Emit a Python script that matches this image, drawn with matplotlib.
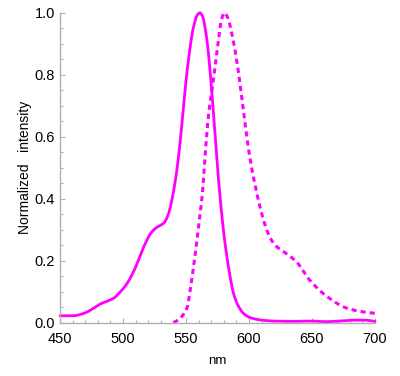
import numpy as np
import matplotlib
matplotlib.use("Agg")
import matplotlib.pyplot as plt
from matplotlib.ticker import MultipleLocator

# solid curve
nm_solid = [450, 460, 469, 482, 493, 498, 503, 509, 516.5, 522, 526, 532.5,
            536, 539, 543, 546, 548.5, 552, 556, 559, 561, 563, 566, 568.5,
            571, 575, 580, 585, 588, 592, 596, 601, 610, 620, 635, 650, 660,
            672, 685, 692, 700]
int_solid = [0.022, 0.022, 0.03, 0.06, 0.08, 0.1, 0.125, 0.17, 0.245, 0.288,
             0.305, 0.322, 0.35, 0.40, 0.50, 0.61, 0.72, 0.85, 0.955, 0.993,
             1.0, 0.99, 0.93, 0.84, 0.718, 0.50, 0.288, 0.148, 0.09, 0.05,
             0.028, 0.016, 0.008, 0.005, 0.004, 0.005, 0.003, 0.005, 0.008,
             0.008, 0.004]

# dashed curve
nm_dash = [540, 542, 545, 548, 551, 553.5, 556, 560, 563, 565.5, 568, 571,
           573.5, 576, 578, 580.5, 583, 586.5, 591, 596.5, 600, 604, 610,
           614, 618, 622, 627.5, 637.5, 648, 662, 678, 690, 700]
int_dash = [0.0, 0.004, 0.012, 0.027, 0.05, 0.11, 0.18, 0.31, 0.417, 0.557,
            0.675, 0.76, 0.84, 0.92, 0.975, 1.0, 0.985, 0.93, 0.826, 0.654,
            0.55, 0.46, 0.353, 0.30, 0.265, 0.245, 0.229, 0.197, 0.138,
            0.084, 0.046, 0.035, 0.03]


def smooth(x, y, n=800):
    # monotone cubic (Fritsch-Carlson) for a smooth look
    x = np.asarray(x, float)
    y = np.asarray(y, float)
    h = np.diff(x)
    d = np.diff(y) / h
    m = np.zeros_like(y)
    m[0], m[-1] = d[0], d[-1]
    for i in range(1, len(x) - 1):
        if d[i - 1] * d[i] <= 0:
            m[i] = 0
        else:
            w1 = 2 * h[i] + h[i - 1]
            w2 = h[i] + 2 * h[i - 1]
            m[i] = (w1 + w2) / (w1 / d[i - 1] + w2 / d[i])
    xs = np.linspace(x[0], x[-1], n)
    k = np.clip(np.searchsorted(x, xs) - 1, 0, len(x) - 2)
    t = (xs - x[k]) / h[k]
    h00 = 2 * t**3 - 3 * t**2 + 1
    h10 = t**3 - 2 * t**2 + t
    h01 = -2 * t**3 + 3 * t**2
    h11 = t**3 - t**2
    ys = h00 * y[k] + h10 * h[k] * m[k] + h01 * y[k + 1] + h11 * h[k] * m[k + 1]
    return xs, ys


plt.rcParams['font.family'] = ['Liberation Sans', 'DejaVu Sans']

fig = plt.figure(figsize=(4.0, 3.76), dpi=100)
ax = fig.add_axes([0.15, 0.142, 0.7875, 0.824])

color = '#ff00ff'
xs, ys = smooth(nm_solid, int_solid)
ax.plot(xs, ys, color=color, lw=2.0, solid_capstyle='round')
xd, yd = smooth(nm_dash, int_dash)
ax.plot(xd, yd, color=color, lw=2.2, linestyle=(0, (1.7, 1.3)))

ax.set_xlim(450, 700)
ax.set_ylim(0, 1.0)
ax.xaxis.set_major_locator(MultipleLocator(50))
ax.xaxis.set_minor_locator(MultipleLocator(10))
ax.yaxis.set_major_locator(MultipleLocator(0.2))
ax.yaxis.set_minor_locator(MultipleLocator(0.05))
ax.yaxis.set_major_formatter(matplotlib.ticker.FormatStrFormatter('%.1f'))

for s in ['top', 'right']:
    ax.spines[s].set_visible(False)
for s in ['left', 'bottom']:
    ax.spines[s].set_color('#b0b0b0')
    ax.spines[s].set_linewidth(1.0)

ax.tick_params(which='both', direction='in', color='#b0b0b0', labelsize=10.5,
               labelcolor='black')
ax.tick_params(which='major', length=3.5, width=0.8)
ax.tick_params(which='minor', length=2.2, width=0.8)
ax.tick_params(axis='x', which='major', pad=7)
ax.tick_params(axis='y', which='major', pad=3.5)

ax.set_xlabel('nm', fontsize=9.5)
ax.set_ylabel('Normalized   intensity', fontsize=10)
ax.yaxis.set_label_coords(-0.09, 0.5)
ax.xaxis.set_label_coords(0.5, -0.105)
for ln in ax.lines:
    ln.set_clip_on(False)

fig.savefig('out.png', dpi=100)
